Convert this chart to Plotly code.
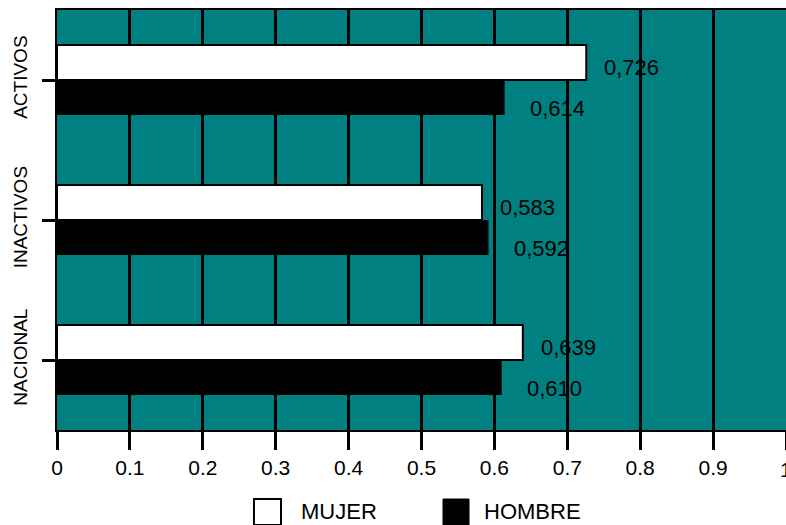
import plotly.graph_objects as go

categories = ["NACIONAL", "INACTIVOS", "ACTIVOS"]
mujer = [0.639, 0.583, 0.726]
hombre = [0.610, 0.592, 0.614]
x_ticks = [0, 0.1, 0.2, 0.3, 0.4, 0.5, 0.6, 0.7, 0.8, 0.9, 1]
x_tick_text = ["0", "0.1", "0.2", "0.3", "0.4", "0.5", "0.6", "0.7", "0.8", "0.9", "1"]

FONT = "Arial, Liberation Sans, sans-serif"

def fmt(v):
    return f"{v:.3f}".replace(".", ",")

fig = go.Figure()
fig.add_trace(go.Bar(
    y=categories, x=hombre, orientation="h", name="HOMBRE",
    marker=dict(color="black", line=dict(color="black", width=0)),
    showlegend=False,
))
fig.add_trace(go.Bar(
    y=categories, x=mujer, orientation="h", name="MUJER",
    marker=dict(color="white", line=dict(color="black", width=2)),
    showlegend=False,
))

annotations = []
for c, v in zip(categories, mujer):
    annotations.append(dict(x=v, y=c, xref="x", yref="y", text=fmt(v), showarrow=False,
                            xanchor="left", yanchor="middle", xshift=16, yshift=13,
                            font=dict(family=FONT, size=22, color="black")))
for c, v in zip(categories, hombre):
    annotations.append(dict(x=v, y=c, xref="x", yref="y", text=fmt(v), showarrow=False,
                            xanchor="left", yanchor="middle", xshift=23, yshift=-28,
                            font=dict(family=FONT, size=22, color="black")))

# last x tick label sits on the right edge (only partly visible, like the reference)
annotations.append(dict(x=x_ticks[-1], y=-0.093, xref="x", yref="paper", text=x_tick_text[-1],
                        showarrow=False, xanchor="center", yanchor="middle",
                        font=dict(family=FONT, size=21, color="black")))

# manual legend
annotations.append(dict(x=0.332, y=-0.195, xref="paper", yref="paper", text="MUJER",
                        showarrow=False, xanchor="left", yanchor="middle",
                        font=dict(family=FONT, size=22, color="black")))
annotations.append(dict(x=0.583, y=-0.195, xref="paper", yref="paper", text="HOMBRE",
                        showarrow=False, xanchor="left", yanchor="middle",
                        font=dict(family=FONT, size=22, color="black")))
shapes = [
    dict(type="rect", xref="paper", yref="paper", x0=0.2702, x1=0.3073, y0=-0.2262, y1=-0.1643,
         fillcolor="white", line=dict(color="black", width=2)),
    dict(type="rect", xref="paper", yref="paper", x0=0.5295, x1=0.5652, y0=-0.2262, y1=-0.1643,
         fillcolor="black", line=dict(color="black", width=1)),
]

fig.update_layout(
    width=786, height=525,
    margin=dict(l=57, r=0, t=10, b=95),
    paper_bgcolor="white",
    plot_bgcolor="#008080",
    barmode="group",
    bargap=0.5,
    bargroupgap=0,
    showlegend=False,
    annotations=annotations,
    shapes=shapes,
    font=dict(family=FONT, color="black"),
)
fig.update_xaxes(
    range=[0, 1], tickvals=x_ticks, ticktext=x_tick_text,
    showgrid=True, gridcolor="black", gridwidth=2.5,
    zeroline=False,
    showline=True, linecolor="black", linewidth=2, mirror=True,
    ticks="outside", ticklen=18, tickwidth=2.5, tickcolor="black",
    tickfont=dict(family=FONT, size=21, color="black"),
)
fig.update_yaxes(
    categoryorder="array", categoryarray=categories,
    showgrid=False, zeroline=False,
    showline=True, linecolor="black", linewidth=2,
    ticks="outside", ticklen=13, tickwidth=2.5, tickcolor="black",
    tickangle=-90, ticklabelstandoff=7,
    tickfont=dict(family=FONT, size=19, color="black"),
)

fig.write_html(
    "out.html",
    config={"displayModeBar": False},
    post_script="document.body.style.margin='0';document.body.style.overflow='hidden';",
)
